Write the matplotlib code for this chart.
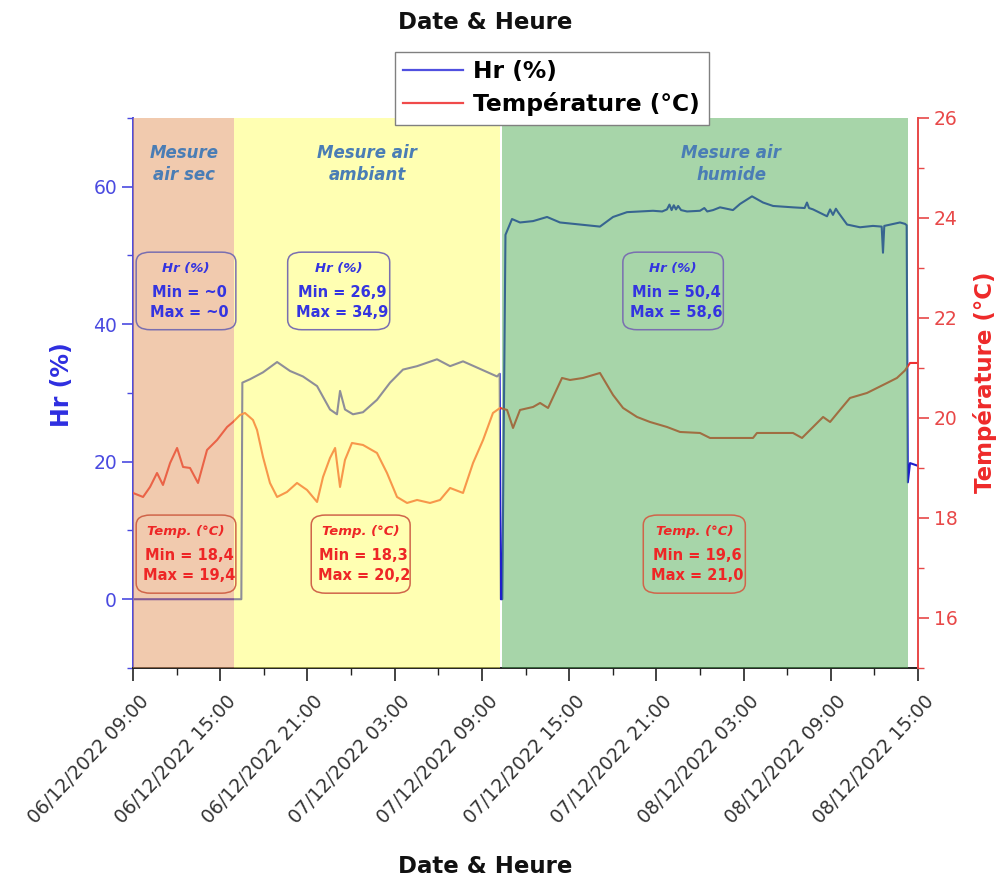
import matplotlib
matplotlib.use("Agg")
import matplotlib.pyplot as plt
import matplotlib.dates as mdates
from matplotlib.patches import FancyBboxPatch
from matplotlib.ticker import MultipleLocator
from matplotlib.transforms import ScaledTranslation
import pandas as pd

plt.rcParams['font.family'] = ['DejaVu Sans']

# ---- data: elapsed hours since the start of logging ----
start = "2022-12-06 09:00"

hr_hours = [0.0, 7.45, 7.52, 8.05, 8.94, 9.91, 10.80, 11.69, 12.66, 13.55, 14.03, 14.24, 14.58,
            15.13, 15.82, 16.78, 17.68, 18.57, 19.54, 20.91, 21.81, 22.70, 23.66, 25.04, 25.22,
            25.30, 25.40, 25.62, 26.07, 26.62, 27.52, 28.48, 29.37, 30.75, 32.12, 33.02, 33.98,
            35.77, 36.40, 36.73, 36.90, 37.05, 37.20, 37.35, 37.50, 37.70, 38.11, 39.00, 39.30,
            39.50, 39.90, 40.38, 41.27, 41.76, 42.58, 43.34, 44.03, 45.40, 46.20, 46.36, 46.50,
            46.78, 47.74, 47.95, 48.15, 48.35, 48.50, 49.12, 50.01, 50.90, 51.50, 51.59, 51.68,
            52.76, 53.10, 53.22, 53.30, 53.45, 54.0]
hr_values = [0.0, 0.0, 31.5, 32.0, 33.0, 34.5, 33.2, 32.4, 31.0, 27.6, 26.9, 30.3, 27.6,
             26.9, 27.2, 29.0, 31.5, 33.4, 33.9, 34.9, 33.9, 34.6, 33.7, 32.4, 32.8,
             0.0, 0.0, 53.0, 55.3, 54.8, 55.0, 55.6, 54.8, 54.5, 54.2, 55.6, 56.3,
             56.5, 56.4, 56.7, 57.4, 56.6, 57.3, 56.7, 57.2, 56.6, 56.4, 56.5, 56.9,
             56.4, 56.6, 57.0, 56.6, 57.5, 58.6, 57.7, 57.2, 57.0, 56.9, 57.7, 56.9,
             56.7, 55.7, 56.7, 55.9, 56.8, 56.3, 54.5, 54.1, 54.3, 54.2, 50.4, 54.3,
             54.8, 54.6, 54.4, 17.0, 19.8, 19.4]

temp_hours = [0.0, 0.69, 1.17, 1.65, 2.06, 2.55, 3.03, 3.44, 3.92, 4.47, 5.09, 5.78, 6.47,
              6.88, 7.36, 7.70, 8.25, 8.53, 8.94, 9.42, 9.91, 10.59, 11.28, 11.97, 12.66,
              13.07, 13.55, 13.90, 14.24, 14.58, 15.06, 15.82, 16.78, 17.47, 18.16, 18.85,
              19.54, 20.43, 21.12, 21.81, 22.70, 23.39, 24.08, 24.76, 25.25, 25.73, 26.14,
              26.62, 27.52, 28.00, 28.55, 29.51, 30.06, 30.96, 32.12, 33.02, 33.71, 34.67,
              35.56, 36.73, 37.63, 39.00, 39.69, 41.27, 42.65, 42.92, 45.40, 46.02, 46.78,
              47.47, 47.95, 48.63, 49.32, 50.49, 51.87, 52.55, 53.10, 53.45, 54.0]
temp_values = [18.5, 18.42, 18.62, 18.9, 18.66, 19.1, 19.4, 19.02, 19.0, 18.7, 19.36, 19.56, 19.82,
               19.92, 20.06, 20.1, 19.96, 19.76, 19.22, 18.7, 18.42, 18.52, 18.7, 18.56, 18.32,
               18.82, 19.2, 19.4, 18.62, 19.16, 19.5, 19.46, 19.3, 18.9, 18.42, 18.3,
               18.36, 18.3, 18.36, 18.6, 18.5, 19.1, 19.56, 20.1, 20.2, 20.16, 19.8,
               20.16, 20.22, 20.3, 20.2, 20.8, 20.76, 20.8, 20.9, 20.46, 20.2, 20.02,
               19.92, 19.82, 19.72, 19.7, 19.6, 19.6, 19.6, 19.7, 19.7, 19.6, 19.82,
               20.02, 19.92, 20.16, 20.4, 20.5, 20.7, 20.8, 20.95, 21.1, 21.1]

# measurement phases: (label, begin, end, colour)
phase_names = ["Mesure\nair sec", "Mesure air\nambiant", "Mesure air\nhumide"]
phase_begin = ["2022-12-06 09:00", "2022-12-06 15:57", "2022-12-07 10:21"]
phase_end = ["2022-12-06 15:57", "2022-12-07 10:15", "2022-12-08 14:19"]
phase_colors = ["#E5975F", "#FFFF66", "#51AD55"]

hr_min = ["~0", "26,9", "50,4"]
hr_max = ["~0", "34,9", "58,6"]
temp_min = ["18,4", "18,3", "19,6"]
temp_max = ["19,4", "20,2", "21,0"]

x_start = "2022-12-06 09:00"
x_end = "2022-12-08 15:00"

# ---- build time axes ----
t0 = pd.Timestamp(start)
t_hr = t0 + pd.to_timedelta(hr_hours, unit="h")
t_temp = t0 + pd.to_timedelta(temp_hours, unit="h")

BLUE = "#1E1ECC"
RED = "#F03030"
AX_BLUE = "#4A4AE0"
AX_RED = "#E84848"

fig = plt.figure(figsize=(10.01, 8.81), dpi=100)
ax1 = fig.add_axes([0.1329, 0.2418, 0.7842, 0.6243])
ax2 = ax1.twinx()

ax1.plot(t_hr, hr_values, color=BLUE, lw=1.5, zorder=2)
ax2.plot(t_temp, temp_values, color=RED, lw=1.5, zorder=2)

for b, e, c in zip(phase_begin, phase_end, phase_colors):
    ax2.axvspan(pd.Timestamp(b), pd.Timestamp(e), color=c, alpha=0.5, lw=0, zorder=3)

ax1.set_xlim(pd.Timestamp(x_start), pd.Timestamp(x_end))
ax1.set_ylim(-10, 70)
ax2.set_ylim(15, 26)

# x axis
ax1.xaxis.set_major_locator(mdates.HourLocator(byhour=[3, 9, 15, 21]))
ax1.xaxis.set_minor_locator(mdates.HourLocator(byhour=[0, 6, 12, 18]))
ax1.xaxis.set_major_formatter(mdates.DateFormatter("%d/%m/%Y %H:%M"))
ax1.tick_params(axis="x", which="major", length=9, width=1.2, color="#222222",
                labelsize=13.5, labelcolor="#333333", pad=13)
ax1.tick_params(axis="x", which="minor", length=5, width=1.0, color="#222222")
shift = ScaledTranslation(9 / 72, 0, fig.dpi_scale_trans)
for lab in ax1.get_xticklabels():
    lab.set_rotation(47)
    lab.set_ha("right")
    lab.set_va("center")
    lab.set_rotation_mode("anchor")
    lab.set_transform(lab.get_transform() + shift)

# left axis
ax1.yaxis.set_major_locator(MultipleLocator(20))
ax1.yaxis.set_minor_locator(MultipleLocator(10))
ax1.tick_params(axis="y", which="major", length=8, width=1.2, color=AX_BLUE,
                labelcolor=AX_BLUE, labelsize=13.5)
ax1.tick_params(axis="y", which="minor", length=4, width=1.0, color=AX_BLUE)

# right axis
ax2.yaxis.set_major_locator(MultipleLocator(2))
ax2.yaxis.set_minor_locator(MultipleLocator(1))
ax2.tick_params(axis="y", which="major", length=8, width=1.2, color=AX_RED,
                labelcolor=AX_RED, labelsize=13.5)
ax2.tick_params(axis="y", which="minor", length=4, width=1.0, color=AX_RED)

for s in ["top", "right"]:
    ax1.spines[s].set_visible(False)
for s in ["top", "left", "bottom"]:
    ax2.spines[s].set_visible(False)
ax1.spines["left"].set_color(AX_BLUE)
ax1.spines["left"].set_linewidth(1.4)
ax1.spines["bottom"].set_color("#222222")
ax1.spines["bottom"].set_linewidth(1.4)
ax2.spines["right"].set_color(AX_RED)
ax2.spines["right"].set_linewidth(1.4)

# phase titles
title_x = [0.065, 0.298, 0.762]
for name, x in zip(phase_names, title_x):
    ax2.text(x, 0.916, name, transform=ax2.transAxes, ha="center", va="center",
             fontsize=12, fontweight="bold", fontstyle="italic", color="#4A7DB5",
             linespacing=1.25, zorder=6)


def stat_box(x0, x1, y0, y1, header, lo, hi, txt_color, edge_color):
    box = FancyBboxPatch((x0, y0), x1 - x0, y1 - y0,
                         boxstyle="round,pad=0,rounding_size=0.018",
                         transform=ax2.transAxes, facecolor="none",
                         edgecolor=edge_color, lw=1.1, zorder=6)
    ax2.add_patch(box)
    xc = (x0 + x1) / 2
    h = y1 - y0
    ax2.text(xc, y1 - 0.205 * h, header, transform=ax2.transAxes, ha="center", va="center",
             fontsize=9.5, fontweight="bold", fontstyle="italic", color=txt_color, zorder=7)
    ax2.text(xc + 0.004, y1 - 0.52 * h, f"Min = {lo}", transform=ax2.transAxes, ha="center",
             va="center", fontsize=10.5, fontweight="bold", color=txt_color, zorder=7)
    ax2.text(xc + 0.004, y1 - 0.78 * h, f"Max = {hi}", transform=ax2.transAxes, ha="center",
             va="center", fontsize=10.5, fontweight="bold", color=txt_color, zorder=7)


hr_box_x = [(0.004, 0.131), (0.197, 0.327), (0.624, 0.752)]
temp_box_x = [(0.004, 0.131), (0.227, 0.353), (0.650, 0.780)]
for (a, b), lo, hi in zip(hr_box_x, hr_min, hr_max):
    stat_box(a, b, 0.615, 0.756, "Hr (%)", lo, hi, "#3434E0", "#7A6FB0")
for (a, b), lo, hi in zip(temp_box_x, temp_min, temp_max):
    stat_box(a, b, 0.136, 0.278, "Temp. (°C)", lo, hi, "#EE2626", "#D0654A")

# legend
h1, = ax1.plot([], [], color="#5050E0", lw=1.6)
h2, = ax1.plot([], [], color="#F04A4A", lw=1.6)
leg = fig.legend([h1, h2], ["Hr (%)", "Température (°C)"], loc="upper left",
                 bbox_to_anchor=(0.3946, 0.941), bbox_transform=fig.transFigure,
                 borderaxespad=0, frameon=True, fancybox=False, framealpha=1,
                 edgecolor="#808080", handlelength=2.55, handletextpad=0.45,
                 labelspacing=0.38, borderpad=0.36,
                 prop={"size": 16.8, "weight": "bold"})
leg.get_frame().set_linewidth(1.0)

# axis titles
fig.text(0.4845, 0.975, "Date & Heure", ha="center", va="center",
         fontsize=16.5, fontweight="bold", color="#111111")
fig.text(0.4845, 0.017, "Date & Heure", ha="center", va="center",
         fontsize=16.5, fontweight="bold", color="#111111")
fig.text(0.062, 0.563, "Hr (%)", rotation=90, ha="center", va="center",
         fontsize=17, fontweight="bold", color="#2E2EE0")
fig.text(0.984, 0.566, "Température (°C)", rotation=90, ha="center", va="center",
         fontsize=16.5, fontweight="bold", color="#EE2A2A")

fig.savefig("out.png", dpi=100)
